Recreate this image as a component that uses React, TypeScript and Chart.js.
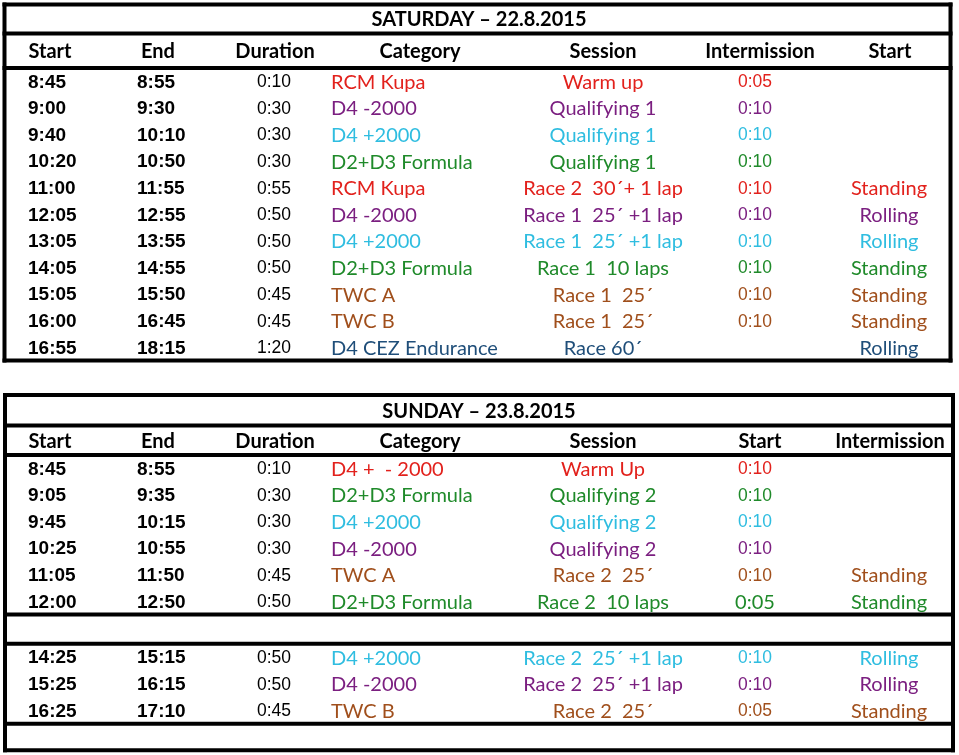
import React, { useEffect, useRef } from "react";
import { Chart, registerables } from "chart.js";
Chart.register(...registerables);

// ---------- DATA ----------
const satTitle = "SATURDAY – 22.8.2015";
const satHeaders = ["Start", "End", "Duration", "Category", "Session", "Intermission", "Start"];
const satStart = ["8:45", "9:00", "9:40", "10:20", "11:00", "12:05", "13:05", "14:05", "15:05", "16:00", "16:55"];
const satEnd = ["8:55", "9:30", "10:10", "10:50", "11:55", "12:55", "13:55", "14:55", "15:50", "16:45", "18:15"];
const satDuration = ["0:10", "0:30", "0:30", "0:30", "0:55", "0:50", "0:50", "0:50", "0:45", "0:45", "1:20"];
const satCategory = ["RCM Kupa", "D4 -2000", "D4 +2000", "D2+D3 Formula", "RCM Kupa", "D4 -2000", "D4 +2000", "D2+D3 Formula", "TWC A", "TWC B", "D4 CEZ Endurance"];
const satSession = ["Warm up", "Qualifying 1", "Qualifying 1", "Qualifying 1", "Race 2  30´+ 1 lap", "Race 1  25´ +1 lap", "Race 1  25´ +1 lap", "Race 1  10 laps", "Race 1  25´", "Race 1  25´", "Race 60´"];
const satIntermission = ["0:05", "0:10", "0:10", "0:10", "0:10", "0:10", "0:10", "0:10", "0:10", "0:10", ""];
const satStartType = ["", "", "", "", "Standing", "Rolling", "Rolling", "Standing", "Standing", "Standing", "Rolling"];

const sunTitle = "SUNDAY – 23.8.2015";
const sunHeaders = ["Start", "End", "Duration", "Category", "Session", "Start", "Intermission"];
const sunStart = ["8:45", "9:05", "9:45", "10:25", "11:05", "12:00", "14:25", "15:25", "16:25"];
const sunEnd = ["8:55", "9:35", "10:15", "10:55", "11:50", "12:50", "15:15", "16:15", "17:10"];
const sunDuration = ["0:10", "0:30", "0:30", "0:30", "0:45", "0:50", "0:50", "0:50", "0:45"];
const sunCategory = ["D4 +  - 2000", "D2+D3 Formula", "D4 +2000", "D4 -2000", "TWC A", "D2+D3 Formula", "D4 +2000", "D4 -2000", "TWC B"];
const sunSession = ["Warm Up", "Qualifying 2", "Qualifying 2", "Qualifying 2", "Race 2  25´", "Race 2  10 laps", "Race 2  25´ +1 lap", "Race 2  25´ +1 lap", "Race 2  25´"];
const sunStartTime = ["0:10", "0:10", "0:10", "0:10", "0:10", "0:05", "0:10", "0:10", "0:05"];
const sunStartType = ["", "", "", "", "Standing", "Standing", "Rolling", "Rolling", "Standing"];

// ---------- STYLES / LAYOUT ----------
const CATEGORY_COLORS: Record<string, string> = {
  "RCM Kupa": "#e2211c",
  "D4 +  - 2000": "#e2211c",
  "D4 -2000": "#7b1f80",
  "D4 +2000": "#2fbde0",
  "D2+D3 Formula": "#1f8a2a",
  "TWC A": "#a04f1c",
  "TWC B": "#a04f1c",
  "D4 CEZ Endurance": "#1f4e79",
};

const W = 959;
const H = 755;
const U = 26.6; // px per row unit
const Y_MAX = H / U;

const TEXT_FONT = "Lato, 'Open Sans', sans-serif";
const NUM_FONT = "'Liberation Sans', Arial, sans-serif";

const VALUE_X = [28, 137, 274, 331, 603, 755, 889];
const VALUE_ALIGN: CanvasTextAlign[] = ["left", "left", "center", "left", "center", "center", "center"];
const HEADER_X = [50, 158, 275, 420, 603, 760, 890];
const TITLE_X = 479;

type Band = { kind: "title" | "header" | "row" | "blank"; h: number };
const SAT_TOP = 0.169;
const SAT_BANDS: Band[] = [
  { kind: "title", h: 1.09 },
  { kind: "header", h: 1.297 },
  ...Array.from({ length: 11 }, () => ({ kind: "row" as const, h: 1 })),
];
const SUN_TOP = 14.85;
const SUN_BANDS: Band[] = [
  { kind: "title", h: 1.146 },
  { kind: "header", h: 1.109 },
  ...Array.from({ length: 6 }, () => ({ kind: "row" as const, h: 1 })),
  { kind: "blank", h: 1.1 },
  ...Array.from({ length: 3 }, () => ({ kind: "row" as const, h: 1 })),
  { kind: "blank", h: 1.0 },
];

type Cell = { text: string; font: string; color: string; align: CanvasTextAlign };

function layoutBands(top: number, bands: Band[]) {
  const lines: number[] = [top];
  const centers: { kind: string; c: number }[] = [];
  let y = top;
  bands.forEach((b, i) => {
    centers.push({ kind: b.kind, c: y + b.h / 2 });
    y += b.h;
    const next = bands[i + 1];
    if (!next || b.kind !== "row" || next.kind !== "row") lines.push(y);
  });
  return { lines, centers };
}

function buildTable(
  top: number,
  bands: Band[],
  title: string,
  headers: string[],
  cols: string[][],
  category: string[],
  kinds: ("time" | "num" | "text")[],
  overrides: Record<string, Partial<Cell>>
) {
  const { lines, centers } = layoutBands(top, bands);
  const pts: { x: number; y: number }[] = [];
  const cells: Cell[] = [];
  const titleC = centers.find((c) => c.kind === "title")!.c;
  pts.push({ x: TITLE_X, y: titleC });
  cells.push({ text: title, font: `bold 20px ${TEXT_FONT}`, color: "#000", align: "center" });
  const headerC = centers.find((c) => c.kind === "header")!.c;
  headers.forEach((h, i) => {
    pts.push({ x: HEADER_X[i], y: headerC });
    cells.push({ text: h, font: `bold 20px ${TEXT_FONT}`, color: "#000", align: "center" });
  });
  const rowCenters = centers.filter((c) => c.kind === "row").map((c) => c.c);
  rowCenters.forEach((rc, r) => {
    const color = CATEGORY_COLORS[category[r]] || "#000";
    cols.forEach((col, ci) => {
      const t = col[r];
      if (!t) return;
      const k = kinds[ci];
      let cell: Cell;
      if (k === "time") cell = { text: t, font: `bold 19px ${NUM_FONT}`, color: "#000", align: VALUE_ALIGN[ci] };
      else if (k === "num") cell = { text: t, font: `17.5px ${NUM_FONT}`, color: ci === 2 ? "#000" : color, align: VALUE_ALIGN[ci] };
      else cell = { text: t, font: `20px ${TEXT_FONT}`, color, align: VALUE_ALIGN[ci] };
      const ov = overrides[`${r},${ci}`];
      if (ov) cell = { ...cell, ...ov };
      pts.push({ x: VALUE_X[ci], y: rc });
      cells.push(cell);
    });
  });
  return { pts, cells, lines };
}

const KINDS: ("time" | "num" | "text")[] = ["time", "time", "num", "text", "text", "num", "text"];

export default function App() {
  const ref = useRef<HTMLCanvasElement | null>(null);

  useEffect(() => {
    if (!ref.current) return;
    const sat = buildTable(
      SAT_TOP, SAT_BANDS, satTitle, satHeaders,
      [satStart, satEnd, satDuration, satCategory, satSession, satIntermission, satStartType],
      satCategory, KINDS, {}
    );
    const sun = buildTable(
      SUN_TOP, SUN_BANDS, sunTitle, sunHeaders,
      [sunStart, sunEnd, sunDuration, sunCategory, sunSession, sunStartTime, sunStartType],
      sunCategory, KINDS, { "5,5": { font: `20px ${TEXT_FONT}` } }
    );

    const tables = [
      { lines: sat.lines, left: 4.5, right: 950.5 },
      { lines: sun.lines, left: 5, right: 953 },
    ];

    const gridPlugin = {
      id: "tableGrid",
      beforeDatasetsDraw(chart: any) {
        const { ctx, scales } = chart;
        const xs = scales.x, ys = scales.y;
        ctx.save();
        ctx.strokeStyle = "#000";
        ctx.lineWidth = 4;
        ctx.lineCap = "square";
        for (const t of tables) {
          const l = xs.getPixelForValue(t.left);
          const r = xs.getPixelForValue(t.right);
          for (const b of t.lines) {
            const y = ys.getPixelForValue(b);
            ctx.beginPath();
            ctx.moveTo(l, y);
            ctx.lineTo(r, y);
            ctx.stroke();
          }
          const top = ys.getPixelForValue(t.lines[0]);
          const bot = ys.getPixelForValue(t.lines[t.lines.length - 1]);
          for (const x of [l, r]) {
            ctx.beginPath();
            ctx.moveTo(x, top);
            ctx.lineTo(x, bot);
            ctx.stroke();
          }
        }
        ctx.restore();
      },
    };

    const textPlugin = {
      id: "cellText",
      afterDatasetsDraw(chart: any) {
        const { ctx } = chart;
        ctx.save();
        ctx.textBaseline = "middle";
        chart.data.datasets.forEach((ds: any, di: number) => {
          const meta = chart.getDatasetMeta(di);
          meta.data.forEach((el: any, i: number) => {
            const c: Cell = ds.cells[i];
            ctx.font = c.font;
            ctx.fillStyle = c.color;
            ctx.textAlign = c.align;
            ctx.fillText(c.text, el.x, el.y + 1);
          });
        });
        ctx.restore();
      },
    };

    const chart = new Chart(ref.current, {
      type: "scatter",
      data: {
        datasets: [
          { data: sat.pts, cells: sat.cells, pointRadius: 0, pointHoverRadius: 0 } as any,
          { data: sun.pts, cells: sun.cells, pointRadius: 0, pointHoverRadius: 0 } as any,
        ],
      },
      options: {
        animation: false,
        responsive: false,
        maintainAspectRatio: false,
        layout: { padding: 0 },
        events: [],
        scales: {
          x: { type: "linear", min: 0, max: W, display: false },
          y: { type: "linear", min: 0, max: Y_MAX, reverse: true, display: false },
        },
        plugins: { legend: { display: false }, tooltip: { enabled: false }, title: { display: false } },
      },
      plugins: [gridPlugin, textPlugin],
    });
    return () => chart.destroy();
  }, []);

  return (
    <div style={{ position: "fixed", left: 0, top: 0, width: W, height: H, background: "#fff" }}>
      <canvas ref={ref} width={W} height={H} style={{ width: W, height: H, display: "block" }} />
    </div>
  );
}
